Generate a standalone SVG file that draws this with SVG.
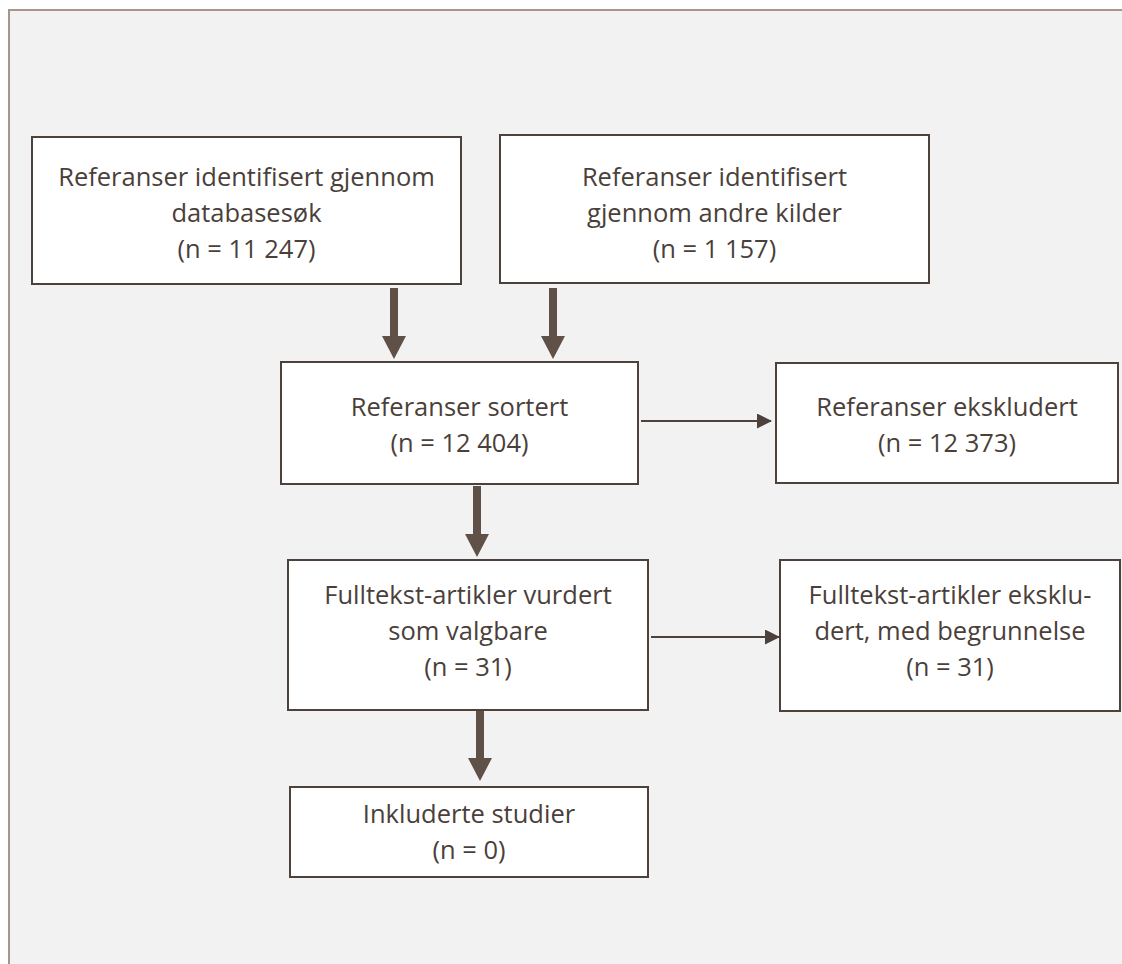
<svg xmlns="http://www.w3.org/2000/svg" width="1122" height="964" viewBox="0 0 1122 964">
<style>
.box{fill:#ffffff;stroke:#4d413b;stroke-width:2}
.t{font-family:"Open Sans","Liberation Sans",sans-serif;font-size:25.5px;fill:#4a3f3a;text-anchor:middle}
.thick{fill:#5f5048}
.thin{stroke:#4d413b;stroke-width:2;fill:none}
</style>
<defs>
<marker id="ah" markerWidth="15" markerHeight="15" refX="14" refY="7.5" orient="auto" markerUnits="userSpaceOnUse" viewBox="0 0 15 15">
<path d="M0,0 L15,7.5 L0,15 Z" fill="#4d413b"/>
</marker>
</defs>
<rect x="0" y="0" width="1122" height="964" fill="#ffffff"/>
<rect x="9" y="10" width="1125" height="970" fill="#f2f2f2" stroke="#a89488" stroke-width="2"/>
<g id="connectors">
<path class="thick" d="M390,288 h8 v48 h8 l-12,23 l-12,-23 h8 z"/>
<path class="thick" d="M549,288 h8 v48 h8 l-12,23 l-12,-23 h8 z"/>
<path class="thick" d="M473,486 h8 v48 h8 l-12,23 l-12,-23 h8 z"/>
<path class="thick" d="M476,711 h8 v47 h8 l-12,23 l-12,-23 h8 z"/>
<line class="thin" x1="641" y1="421" x2="771" y2="421" marker-end="url(#ah)"/>
<line class="thin" x1="651" y1="637" x2="779" y2="637" marker-end="url(#ah)"/>
</g>
<g id="n1">
<rect class="box" x="32" y="137" width="429" height="147"/>
<text class="t" x="246.5" y="186">Referanser identifisert gjennom</text>
<text class="t" x="246.5" y="222">databasesøk</text>
<text class="t" x="246.5" y="258">(n = 11 247)</text>
</g>
<g id="n2">
<rect class="box" x="500" y="135" width="429" height="148"/>
<text class="t" x="714.5" y="186">Referanser identifisert</text>
<text class="t" x="714.5" y="222">gjennom andre kilder</text>
<text class="t" x="714.5" y="258">(n = 1 157)</text>
</g>
<g id="n3">
<rect class="box" x="281" y="362" width="357" height="122"/>
<text class="t" x="459.5" y="416">Referanser sortert</text>
<text class="t" x="459.5" y="452">(n = 12 404)</text>
</g>
<g id="n4">
<rect class="box" x="776" y="363" width="342" height="120"/>
<text class="t" x="947" y="416">Referanser ekskludert</text>
<text class="t" x="947" y="452">(n = 12 373)</text>
</g>
<g id="n5">
<rect class="box" x="288" y="560" width="360" height="150"/>
<text class="t" x="468" y="604">Fulltekst-artikler vurdert</text>
<text class="t" x="468" y="640">som valgbare</text>
<text class="t" x="468" y="676">(n = 31)</text>
</g>
<g id="n6">
<rect class="box" x="780" y="560" width="340" height="151"/>
<text class="t" x="950" y="604">Fulltekst-artikler eksklu-</text>
<text class="t" x="950" y="640">dert, med begrunnelse</text>
<text class="t" x="950" y="676">(n = 31)</text>
</g>
<g id="n7">
<rect class="box" x="290" y="787" width="358" height="90"/>
<text class="t" x="469" y="823">Inkluderte studier</text>
<text class="t" x="469" y="859">(n = 0)</text>
</g>
</svg>
